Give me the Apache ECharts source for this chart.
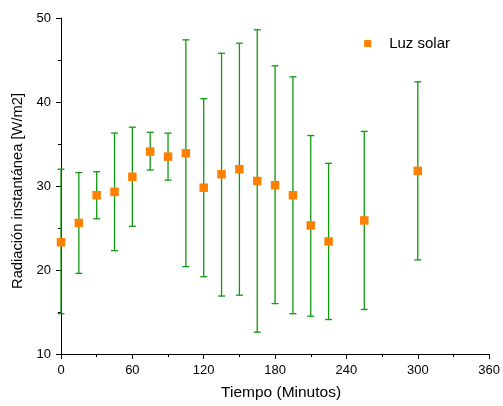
<!DOCTYPE html>
<html>
<head>
<meta charset="utf-8">
<script src="https://cdn.jsdelivr.net/npm/echarts@6/dist/echarts.min.js"></script>
<style>
  html, body { margin: 0; padding: 0; background: #fff; }
  #chart { width: 503px; height: 406px; }
</style>
</head>
<body>
<div id="chart"></div>
<script>
// tiempo en minutos
const tiempo = [0, 15, 30, 45, 60, 75, 90, 105, 120, 135, 150, 165, 180, 195, 210, 225, 255, 300]
// valor medio
const media = [23.3, 25.6, 28.9, 29.3, 31.1, 34.1, 33.5, 33.9, 29.8, 31.4, 32.0, 30.6, 30.1, 28.9, 25.3, 23.4, 25.9, 31.8]
// extremos de las barras de error
const maximo = [32.0, 31.6, 31.7, 36.3, 37.0, 36.4, 36.3, 47.4, 40.4, 45.8, 47.0, 48.6, 44.3, 43.0, 36.0, 32.7, 36.5, 42.4]
const minimo = [14.8, 19.6, 26.1, 22.3, 25.2, 31.9, 30.7, 20.4, 19.2, 16.9, 17.0, 12.6, 16.0, 14.8, 14.5, 14.1, 15.3, 21.2]

const fuente = 'Liberation Sans, Arial, sans-serif'

let myChart = echarts.init(document.getElementById('chart'))

const errores = tiempo.map((t, i) => [t, minimo[i], maximo[i]])
const puntos = tiempo.map((t, i) => [t, media[i]])

const option = {
    animation: false,
    grid: { left: 61, right: 11, top: 18, bottom: 52 },
    legend: {
        data: [{ name: 'Luz solar', icon: 'rect' }],
        right: 48, top: 31,
        itemWidth: 7, itemHeight: 7, itemGap: 5,
        textStyle: { fontFamily: fuente, fontSize: 15, color: '#000', padding: [0, 0, 0, 13] }
    },
    xAxis: {
        type: 'value', min: 0, max: 360, interval: 60,
        name: 'Tiempo (Minutos)', nameLocation: 'middle', nameGap: 31,
        nameTextStyle: { fontFamily: fuente, fontSize: 15.5, color: '#000', padding: [0, 0, 0, 12] },
        axisLine: { onZero: false, lineStyle: { color: '#000', width: 1 } },
        axisTick: { length: 5, lineStyle: { color: '#000' } },
        minorTick: { show: true, splitNumber: 2, length: 3, lineStyle: { color: '#000' } },
        axisLabel: { fontFamily: fuente, fontSize: 13, color: '#000', margin: 10 },
        splitLine: { show: false }
    },
    yAxis: {
        type: 'value', min: 10, max: 50, interval: 10,
        name: 'Radiación instantánea [W/m2]', nameLocation: 'middle', nameGap: 33,
        nameTextStyle: { fontFamily: fuente, fontSize: 14.7, color: '#000', padding: [0, 10, 0, 0] },
        axisLine: { show: true, onZero: false, lineStyle: { color: '#000', width: 1 } },
        axisTick: { length: 5, lineStyle: { color: '#000' } },
        minorTick: { show: true, splitNumber: 2, length: 3, lineStyle: { color: '#000' } },
        axisLabel: { fontFamily: fuente, fontSize: 13, color: '#000', margin: 10 },
        splitLine: { show: false }
    },
    series: [
        {
            // barras de error
            type: 'custom',
            data: errores,
            silent: true,
            z: 1,
            renderItem: function (params, api) {
                const x = api.value(0)
                const abajo = api.coord([x, api.value(1)])
                const arriba = api.coord([x, api.value(2)])
                const c = 3.5
                const estilo = { stroke: '#109a10', lineWidth: 1.3 }
                return {
                    type: 'group',
                    children: [
                        { type: 'line', shape: { x1: abajo[0], y1: abajo[1], x2: arriba[0], y2: arriba[1] }, style: estilo },
                        { type: 'line', shape: { x1: arriba[0] - c, y1: arriba[1], x2: arriba[0] + c, y2: arriba[1] }, style: estilo },
                        { type: 'line', shape: { x1: abajo[0] - c, y1: abajo[1], x2: abajo[0] + c, y2: abajo[1] }, style: estilo }
                    ]
                }
            }
        },
        {
            name: 'Luz solar',
            type: 'scatter',
            data: puntos,
            symbol: 'rect',
            symbolSize: 8.5,
            itemStyle: { color: '#ff8000', opacity: 1 },
            z: 3
        }
    ]
}

myChart.setOption(option)
</script>
</body>
</html>
